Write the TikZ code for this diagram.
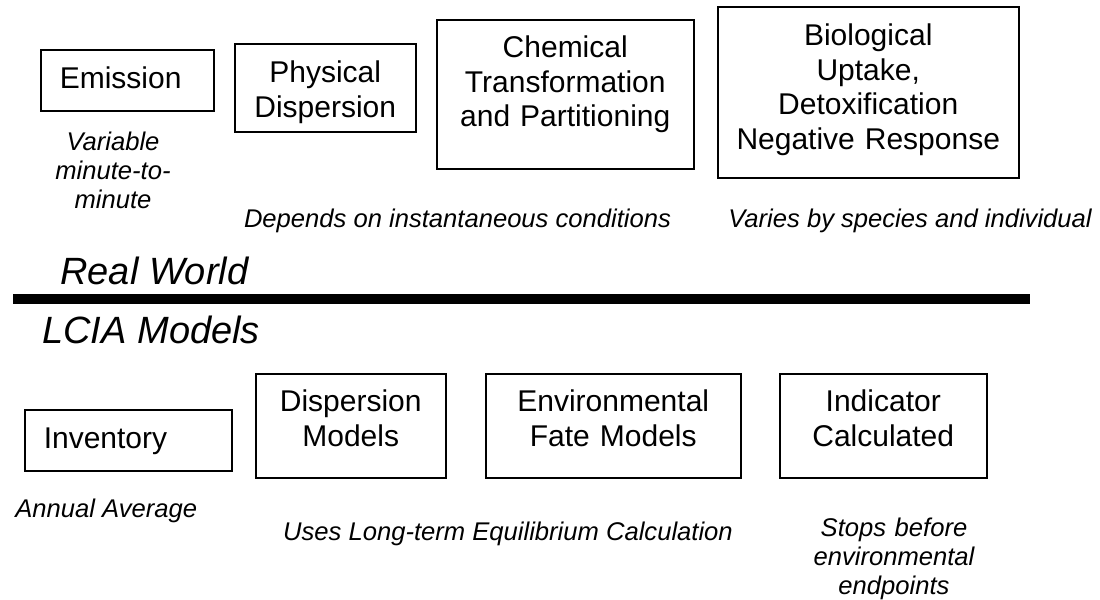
\documentclass[tikz,border=0pt]{standalone}
\usepackage{fontspec}
\setmainfont{Liberation Sans}

% type sizes (1 unit = 0.5pt)
\newcommand\stagefont{\fontsize{15pt}{17.25pt}\selectfont}
\newcommand\notefont{\fontsize{12.8pt}{14.5pt}\selectfont\itshape}
\newcommand\realmfont{\fontsize{19pt}{22pt}\selectfont\itshape}

\begin{document}
\begin{tikzpicture}[x=0.5pt, y=-0.5pt,
  stage/.style={draw=black, line width=0.75pt, inner sep=0pt, anchor=north west,
                align=center, font=\stagefont},
  leftstage/.style={stage, align=left, inner xsep=9.5pt, inner ysep=0pt},
  note/.style={font=\notefont, inner sep=0pt, anchor=base},
  notelines/.style={note, align=center, text width=110pt},
  realm/.style={font=\realmfont, inner sep=0pt, anchor=base west},
]
\useasboundingbox (0,0) rectangle (1100,600);

% ---------- real-world chain ----------
\node[leftstage, text width=67.5pt, text height=19.5pt, text depth=11pt]
  (emission) at (40,49) {Emission};
\node[stage, text width=90.5pt, text height=19.5pt, text depth=24.5pt]
  (physical) at (234,43) {Physical\\Dispersion};
\node[stage, text width=128.5pt, text height=19pt, text depth=55.5pt]
  (chemical) at (436,19) {Chemical\\Transformation\\and Partitioning};
\node[stage, text width=150.5pt, text height=19.5pt, text depth=66pt]
  (biological) at (717,6) {Biological\\Uptake,\\Detoxification\\Negative Response};

\node[notelines] (variable) at (113,150) {Variable\\minute-to-\\minute};
\node[note] (depends) at (457.5,227) {Depends on instantaneous conditions};
\node[note] (varies) at (910,227) {Varies by species and individual};

% ---------- divider ----------
\node[realm] (realworld) at (60,284) {Real World};
\coordinate (barstart) at (13,299);
\coordinate (barend) at (1030,299);
\draw[line width=5pt] (barstart) -- (barend);
\node[realm] (lcia) at (42,343) {LCIA Models};

% ---------- model chain ----------
\node[leftstage, text width=84.5pt, text height=19.5pt, text depth=11pt]
  (inventory) at (24,409) {Inventory};
\node[stage, text width=95pt, text height=19pt, text depth=33pt]
  (dispersion) at (255,373) {Dispersion\\Models};
\node[stage, text width=127.5pt, text height=19pt, text depth=33pt]
  (fate) at (485,373) {Environmental\\Fate Models};
\node[stage, text width=103.5pt, text height=19pt, text depth=33pt]
  (indicator) at (779,373) {Indicator\\Calculated};

\node[note, anchor=base west] (annual) at (15,517) {Annual Average};
\node[note] (uses) at (508,540) {Uses Long-term Equilibrium Calculation};
\node[notelines] (stops) at (894,536) {Stops before\\environmental\\endpoints};
\end{tikzpicture}
\end{document}
